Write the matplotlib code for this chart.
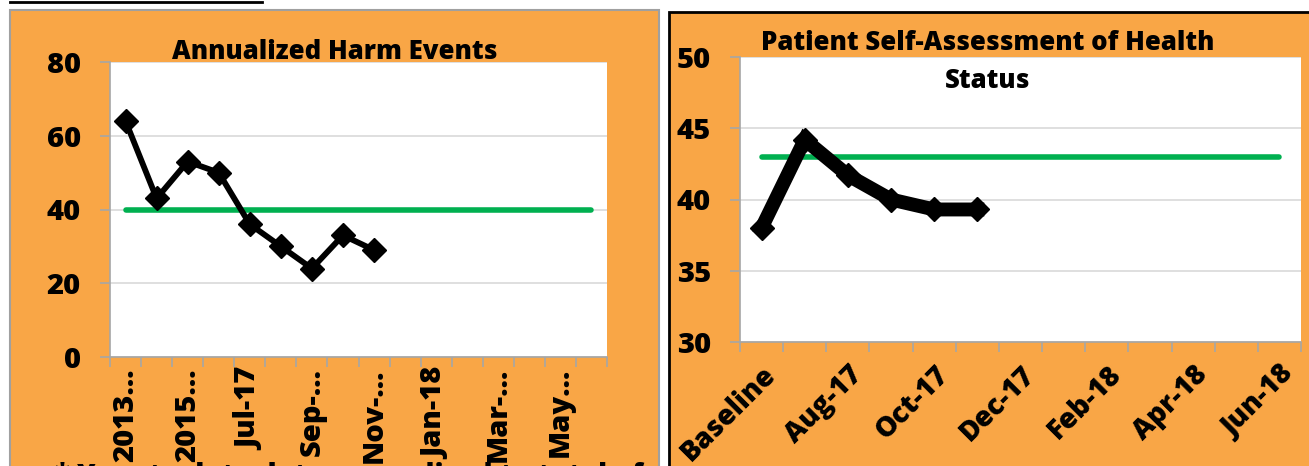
import matplotlib.pyplot as plt
from matplotlib.patches import Rectangle
from matplotlib.lines import Line2D

# data
harm_months = ["2013-14", "2014-15", "2015-16", "2016-17", "Jul-17", "Aug-17", "Sep-17", "Oct-17",
               "Nov-17", "Dec-17", "Jan-18", "Feb-18", "Mar-18", "Apr-18", "May-18", "Jun-18"]
harm_ticklabels = ["2013…", "2015…", "Jul-17", "Sep-…", "Nov-…", "Jan-18", "Mar-…", "May…"]
harm_values = [64, 43, 53, 50, 36, 30, 24, 33, 29]
harm_goal = 40

health_months = ["Baseline", "Jul-17", "Aug-17", "Sep-17", "Oct-17", "Nov-17", "Dec-17",
                 "Jan-18", "Feb-18", "Mar-18", "Apr-18", "May-18", "Jun-18"]
health_ticklabels = ["Baseline", "Aug-17", "Oct-17", "Dec-17", "Feb-18", "Apr-18", "Jun-18"]
health_values = [38.0, 44.2, 41.7, 40.0, 39.3, 39.3]
health_goal = 43

ORANGE = "#F9A646"
GREEN = "#00B050"
GRID = "#D9D9D9"
AXIS = "#A6A6A6"
FONT = ["Open Sans", "DejaVu Sans"]
WEIGHT = 800

plt.rcParams['font.family'] = FONT
plt.rcParams['font.weight'] = WEIGHT

W, H = 1309, 466
fig = plt.figure(figsize=(W / 100, H / 100), dpi=100, facecolor="white")


def px(x0, y0, x1, y1):
    # pixel box (top-left origin) -> figure fraction rect
    return [x0 / W, 1 - y1 / H, (x1 - x0) / W, (y1 - y0) / H]


# orange panels
r = px(10, 10, 659, 470)
fig.patches.append(Rectangle((r[0], r[1]), r[2], r[3], transform=fig.transFigure,
                             facecolor=ORANGE, edgecolor="#A0A0A0", lw=1.5, zorder=-2))
r = px(669, 12, 1312, 470)
fig.patches.append(Rectangle((r[0], r[1]), r[2], r[3], transform=fig.transFigure,
                             facecolor=ORANGE, edgecolor="black", lw=2, zorder=-2))
# underline at top left
fig.lines.append(Line2D([10 / W, 262 / W], [1 - 2 / H, 1 - 2 / H], transform=fig.transFigure,
                        color="black", lw=2))


def style_axes(ax, n, ylim, ystep):
    ax.set_facecolor("white")
    ax.set_xlim(-0.5, n - 0.5)
    ax.set_ylim(*ylim)
    ax.set_yticks(range(ylim[0], ylim[1] + 1, ystep))
    for s in ["top", "right"]:
        ax.spines[s].set_visible(False)
    for s in ["left", "bottom"]:
        ax.spines[s].set_color(AXIS)
        ax.spines[s].set_linewidth(1.2)
    ax.grid(axis="y", color=GRID, lw=1.2)
    ax.set_axisbelow(True)
    ax.tick_params(axis="y", length=7, width=1.2, color=AXIS, pad=14, labelsize=21)
    ax.set_xticks([i - 0.5 for i in range(n + 1)], minor=True)
    ax.tick_params(axis="x", which="minor", length=7, width=1.2, color=AXIS)
    ax.tick_params(axis="x", which="major", length=0)
    for lab in ax.get_yticklabels():
        lab.set_fontweight(WEIGHT)


# left chart
ax1 = fig.add_axes(px(110, 62, 607, 357))
style_axes(ax1, len(harm_months), (0, 80), 20)
ax1.plot(range(len(harm_values)), harm_values, color="black", lw=4.2, marker="D", ms=12, zorder=3)
ax1.plot([0, len(harm_months) - 1], [harm_goal] * 2, color=GREEN, lw=4, solid_capstyle="round", zorder=2)
ax1.set_xticks(range(0, len(harm_months), 2))
ax1.set_xticklabels(harm_ticklabels, rotation=90, fontsize=21, fontweight=WEIGHT, va="top", ha="center")
ax1.tick_params(axis="x", which="major", pad=8)
fig.text(335 / W, 1 - 59 / H, "Annualized Harm Events", ha="center", va="baseline",
         fontsize=18.5, fontweight=WEIGHT)
fig.text(55 / W, 1 - 484 / H, "* Year to date data normalized to total of year", ha="left",
         va="baseline", fontsize=20, fontweight=WEIGHT)

# right chart
ax2 = fig.add_axes(px(740, 57, 1301, 342))
style_axes(ax2, len(health_months), (30, 50), 5)
ax2.plot(range(len(health_values)), health_values, color="black", lw=10, marker="D", ms=12,
         solid_joinstyle="miter", zorder=3)
ax2.plot([0, len(health_months) - 1], [health_goal] * 2, color=GREEN, lw=4, solid_capstyle="round", zorder=2)
ax2.set_xticks(range(0, len(health_months), 2))
ax2.set_xticklabels(health_ticklabels, rotation=45, fontsize=20, fontweight=WEIGHT,
                    ha="right", va="top", rotation_mode="anchor")
ax2.tick_params(axis="x", which="major", pad=13)
fig.text(988 / W, 1 - 50 / H, "Patient Self-Assessment of Health", ha="center",
         va="baseline", fontsize=18.5, fontweight=WEIGHT)
fig.text(988 / W, 1 - 88 / H, "Status", ha="center",
         va="baseline", fontsize=18.5, fontweight=WEIGHT)

fig.savefig("out.png", dpi=100, facecolor="white")
